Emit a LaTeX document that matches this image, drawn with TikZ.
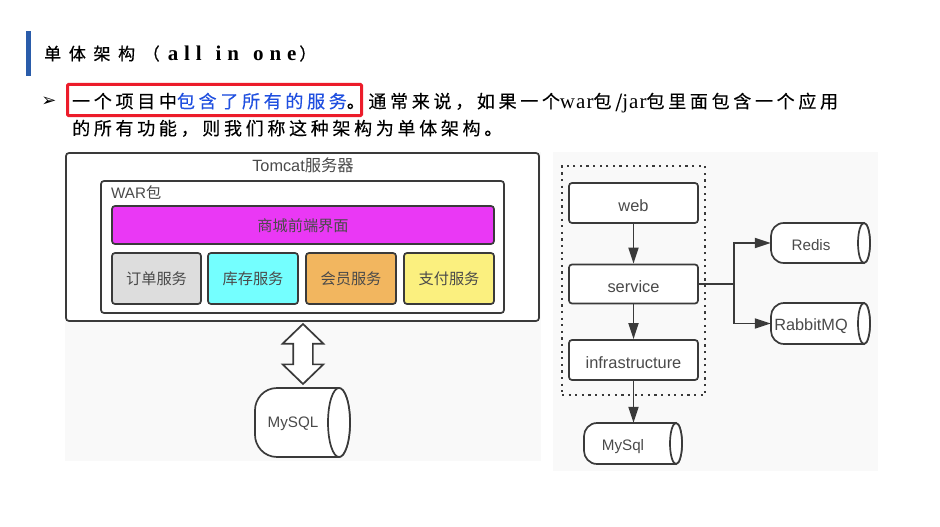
\documentclass[tikz,border=0pt]{standalone}
\usepackage{fontspec}
\usetikzlibrary{arrows.meta,shapes.arrows}
\setmainfont{Liberation Sans}
\newfontfamily\cjkbody[LetterSpace=20.5,FakeBold=0.2]{Noto Sans CJK SC}
\newfontfamily\cjktitle[LetterSpace=45,FakeBold=0.6]{Noto Sans CJK SC}
\newfontfamily\latbody[LetterSpace=5]{Liberation Serif}
\newfontfamily\lattitle[LetterSpace=28]{Liberation Serif Bold}
\newfontfamily\cjkdiag{Noto Sans CJK SC}
\definecolor{ink}{HTML}{3A3A3A}
\definecolor{labelink}{HTML}{4A4A4A}
\definecolor{panel}{HTML}{F9F9F9}
\definecolor{barblue}{HTML}{2A5CAA}
\definecolor{linkblue}{HTML}{1F4FE0}
\definecolor{redframe}{HTML}{EC1C2A}
\definecolor{cpurple}{HTML}{EA38F5}
\definecolor{cgray}{HTML}{DDDDDD}
\definecolor{ccyan}{HTML}{74FFFF}
\definecolor{corange}{HTML}{F2B65F}
\definecolor{cyellow}{HTML}{FBF07F}
\tikzset{
  x=1pt,y=-1pt,
  slidetext/.style={anchor=base west,inner sep=0pt,text=black,font=\fontsize{18}{18}\selectfont\cjkbody},
  boxed/.style={draw=ink,line width=1.7pt,rounded corners=3pt,inner sep=0pt,text=labelink,font=\fontsize{15.2}{15.2}\selectfont},
  cjkboxed/.style={boxed,font=\fontsize{15.2}{15.2}\selectfont\cjkdiag,text height=12pt,text depth=0pt},
  latboxed/.style={boxed,font=\fontsize{16.4}{16.4}\selectfont,text height=16pt,text depth=0pt},
  plainlabel/.style={inner sep=0pt,text=labelink,font=\fontsize{15.2}{15.2}\selectfont},
  widelabel/.style={plainlabel,font=\fontsize{16.3}{16.3}\selectfont},
  flow/.style={draw=ink,line width=1.8pt,-{Triangle[length=16pt,width=10pt]}},
  dbline/.style={draw=ink,line width=1.7pt,fill=white},
  ghost/.style={inner sep=0pt,draw=none},
}
% name, left, right, top, bottom, ellipse x-radius
\newcommand{\dbcyl}[6]{%
  \pgfmathsetmacro{\cxc}{(#2+#3)/2}\pgfmathsetmacro{\cyc}{(#4+#5)/2}%
  \pgfmathsetmacro{\cw}{#3-#2}\pgfmathsetmacro{\ch}{#5-#4}%
  \pgfmathsetmacro{\cex}{#3-#6}\pgfmathsetmacro{\cry}{(#5-#4)/2}%
  \pgfmathsetmacro{\clr}{(#5-#4)*0.32}%
  \pgfmathsetmacro{\cxa}{#2+\clr}\pgfmathsetmacro{\cyh}{#4+\clr}\pgfmathsetmacro{\cyl}{#5-\clr}%
  \node[ghost,minimum width=\cw pt,minimum height=\ch pt] (#1) at (\cxc,\cyc) {};
  \draw[dbline] (\cex,#4) -- (\cxa,#4)
    .. controls (#2+\clr*0.4,#4) and (#2,#4+\clr*0.5) .. (#2,\cyh) -- (#2,\cyl)
    .. controls (#2,#5-\clr*0.5) and (#2+\clr*0.4,#5) .. (\cxa,#5) -- (\cex,#5)
    arc[start angle=90,end angle=-90,x radius=#6pt,y radius=-\cry pt]
    -- cycle;
  \draw[dbline] (\cex,\cyc) ellipse[x radius=#6pt,y radius=\cry pt];
}
\begin{document}
\begin{tikzpicture}
\useasboundingbox (0,0) rectangle (940,527);
\fill[white] (0,0) rectangle (940,527);
% panels
\fill[panel] (65,152) rectangle (541,461);
\fill[panel] (553,152) rectangle (878,471);
% heading
\fill[barblue] (26,31) rectangle (31,76);
\node[slidetext,font=\fontsize{17}{17}\selectfont\cjktitle] (title) at (44,60) {单体架构（\hspace{8pt}{\fontsize{21}{21}\selectfont\lattitle all\hspace{14pt}in\hspace{14pt}one}\hspace{3pt}）};
% bullet text
\node[inner sep=0pt,font=\fontsize{18}{18}\selectfont\fontspec{DejaVu Sans}] (bullet) at (49,102) {➢};
\node[slidetext] (lineone) at (72,108) {一个项目中\textcolor{linkblue}{包含了所有的服务}。通常来说，如果一个{\fontsize{21}{21}\selectfont\latbody war}包/{\fontsize{21}{21}\selectfont\latbody jar}包里面包含一个应用};
\node[slidetext] (linetwo) at (72,135) {的所有功能，则我们称这种架构为单体架构。};
\node[draw=redframe,line width=3pt,rounded corners=1pt,inner sep=0pt,minimum width=294pt,minimum height=31pt] (redframe) at (214.5,100) {};
% left diagram
\node[boxed,fill=white,minimum width=473pt,minimum height=168pt] (tomcat) at (302.5,237) {};
\node[widelabel] (tomcatlabel) at (303,165) {Tomcat{\cjkdiag 服务器}};
\node[boxed,fill=white,minimum width=403pt,minimum height=132pt] (war) at (302.5,247) {};
\node[plainlabel,anchor=west] (warlabel) at (111,193) {WAR{\cjkdiag 包}};
\node[cjkboxed,fill=cpurple,minimum width=382pt,minimum height=38pt] (front) at (303,225) {商城前端界面};
\node[cjkboxed,fill=cgray,minimum width=89pt,minimum height=51pt] (order) at (156.5,278.5) {订单服务};
\node[cjkboxed,fill=ccyan,minimum width=90pt,minimum height=51pt] (stock) at (253,278.5) {库存服务};
\node[cjkboxed,fill=corange,minimum width=90pt,minimum height=51pt] (member) at (351,278.5) {会员服务};
\node[cjkboxed,fill=cyellow,minimum width=90pt,minimum height=51pt] (pay) at (449,278.5) {支付服务};
\node[shape=double arrow,draw=ink,line width=1.7pt,fill=white,rotate=90,inner xsep=0pt,inner ysep=9pt,outer sep=0pt,
  minimum height=60pt,double arrow head extend=10.5pt,double arrow tip angle=92] (updown) at (303,354) {};
\dbcyl{mysqlleft}{255}{350}{388}{457}{11}
\node[plainlabel] (mysqlleftlabel) at (293,424) {MySQL};
% right diagram
\node[draw=ink,line width=2pt,dash pattern=on 2.2pt off 4.4pt,inner sep=0pt,minimum width=143pt,minimum height=229pt] (group) at (633.5,280.5) {};
\node[latboxed,fill=white,minimum width=129pt,minimum height=40pt] (web) at (633.5,203) {web};
\node[latboxed,fill=white,minimum width=129pt,minimum height=39pt] (service) at (633.5,284) {service};
\node[latboxed,fill=white,minimum width=129pt,minimum height=40pt] (infra) at (633.5,360) {infrastructure};
\dbcyl{redis}{771}{870}{223}{263}{6}
\node[plainlabel] (redislabel) at (811,245) {Redis};
\dbcyl{rabbit}{771}{870}{303}{344}{6}
\node[widelabel] (rabbitlabel) at (811,326) {RabbitMQ};
\dbcyl{mysqlright}{584}{682}{423}{464}{6}
\node[plainlabel] (mysqlrightlabel) at (623,447) {MySql};
% connectors
\coordinate (branch) at (734,284);
\draw[flow] (web) -- (service);
\draw[flow] (service) -- (infra);
\draw[flow] (infra) -- (infra.south |- mysqlright.north);
\draw[draw=ink,line width=1.8pt] (service.east) -- (branch);
\draw[flow] (branch) |- (redis.west);
\draw[flow] (branch) |- (rabbit.west);
\end{tikzpicture}
\end{document}
